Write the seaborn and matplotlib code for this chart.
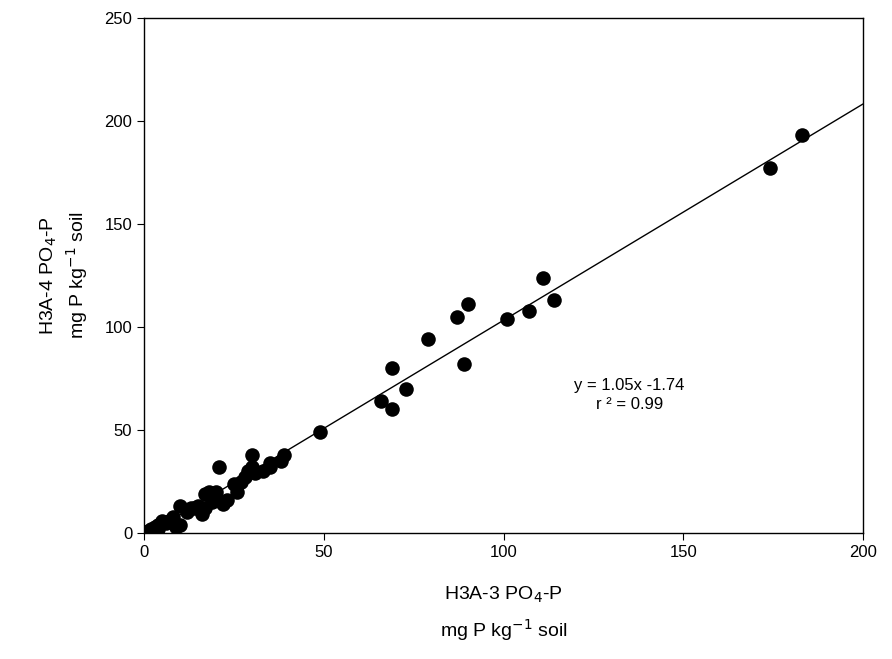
import numpy as np
import seaborn as sns
import matplotlib.pyplot as plt

x_h3a3 = [183, 174, 114, 111, 107, 101, 90, 89, 87, 79, 73, 69, 69, 66, 49,
          39, 38, 35, 35, 33, 31, 30, 30, 29, 28, 27, 25, 23, 21, 20, 20, 19,
          18, 17, 16, 15, 14, 13, 12, 10, 9, 8, 7, 6, 5, 4, 4, 3, 3, 2, 1,
          0.5, 10, 26, 22, 17]
y_h3a4 = [193, 177, 113, 124, 108, 104, 111, 82, 105, 94, 70, 80, 60, 64, 49,
          38, 35, 34, 32, 30, 29, 38, 32, 30, 27, 25, 24, 16, 32, 20, 17, 15,
          20, 19, 9, 13, 12, 12, 10, 13, 3, 8, 6, 5, 6, 4, 2, 3, 1, 2, 1,
          0.5, 4, 20, 14, 12]
slope, intercept = 1.05, -1.74

sns.set_style("ticks")
plt.rcParams['font.family'] = ['Liberation Sans', 'DejaVu Sans']
plt.rcParams['text.color'] = 'black'
plt.rcParams['axes.labelcolor'] = 'black'
fig = plt.figure(figsize=(8.92, 6.59), dpi=100)
ax = fig.add_axes([144/892, 1-533/659, (863-144)/892, (533-18)/659])

sns.scatterplot(x=x_h3a3, y=y_h3a4, ax=ax, color='black', s=110, edgecolor='black', linewidth=0, zorder=3)
xl = np.array([0, 200])
ax.plot(xl, slope*xl + intercept, color='black', lw=1)

ax.set_xlim(0, 200)
ax.set_ylim(0, 250)
ax.set_xticks([0, 50, 100, 150, 200])
ax.set_yticks([0, 50, 100, 150, 200, 250])
ax.tick_params(labelsize=12, direction='out', length=5, colors='black')
for s in ax.spines.values():
    s.set_color('black')
    s.set_linewidth(1)
ax.set_xlabel("H3A-3 PO$_4$-P\nmg P kg$^{-1}$ soil", fontsize=14, labelpad=18, linespacing=1.6)
ax.set_ylabel("H3A-4 PO$_4$-P\nmg P kg$^{-1}$ soil", fontsize=14, labelpad=10, linespacing=1.3)
ax.text(135, 67, "y = 1.05x -1.74\nr ² = 0.99", ha='center', va='center', fontsize=12, linespacing=1.3)

fig.savefig("out.png", dpi=100)
